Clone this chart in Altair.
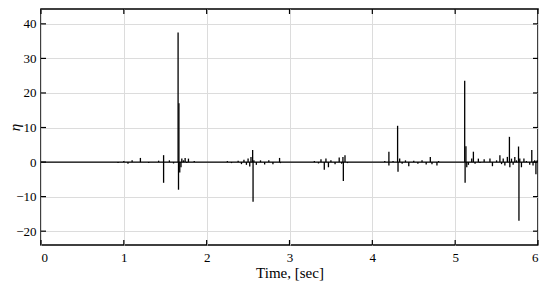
import altair as alt
import pandas as pd

# spikes of eta about zero: time (s) and peak value
spike_t = [
    0.93, 1.0, 1.05, 1.1, 1.2, 1.3, 1.42,
    1.48, 1.48, 1.55, 1.6,
    1.655, 1.66, 1.665, 1.675, 1.69, 1.70, 1.72, 1.74, 1.76, 1.78, 1.85,
    2.25, 2.3, 2.38, 2.42, 2.45, 2.48, 2.5, 2.52, 2.535, 2.555, 2.56, 2.57, 2.6, 2.65,
    2.7, 2.75, 2.8, 2.88, 2.89,
    3.3, 3.35, 3.38, 3.42, 3.44, 3.47, 3.5, 3.55, 3.6, 3.63, 3.645, 3.65, 3.67, 3.7,
    4.15, 4.2, 4.2, 4.25, 4.305, 4.31, 4.33, 4.36, 4.4, 4.44, 4.5, 4.55, 4.6,
    4.65, 4.7, 4.72, 4.78, 4.8,
    5.115, 5.12, 5.13, 5.14, 5.16, 5.2, 5.22, 5.24, 5.28, 5.3, 5.35, 5.42, 5.45, 5.5,
    5.54, 5.56, 5.58, 5.6, 5.63, 5.655, 5.66, 5.68, 5.7, 5.72, 5.74, 5.765, 5.77, 5.78, 5.8,
    5.83, 5.86, 5.9, 5.925, 5.94, 5.96, 5.975, 5.99,
]
spike_v = [
    -0.3, 0.3, -0.5, 0.5, 1.2, -0.3, 0.4,
    2.0, -6.0, 0.5, -0.4,
    37.5, -8.0, 17.0, -3.0, -1.5, 1.0, 0.5, 1.2, -0.3, 1.0, 0.3,
    0.3, -0.3, 0.4, -0.6, 0.7, -0.8, 1.0, -1.3, 1.5, 3.5, -11.5, 0.5, -0.8, 0.5,
    -0.7, 0.5, -0.6, 1.2, -0.3,
    0.3, -0.4, 0.8, -2.2, 1.0, -1.5, 0.5, -0.6, 1.3, -0.5, 1.5, -5.5, 2.0, -0.3,
    0.3, 3.0, -1.0, 0.3, 10.5, -2.8, 1.0, -0.5, 0.5, -1.2, 0.4, -0.5, 0.5,
    -0.7, 1.5, -0.6, -1.0, 0.3,
    23.5, -6.0, 4.6, -1.5, -0.8, 1.0, 3.0, -0.5, 1.0, -0.3, 0.8, 1.0, -1.2, 0.5,
    2.0, -0.6, 1.0, -1.0, 1.5, 7.3, -1.5, 1.0, -0.8, 1.5, 0.5, 4.5, -17.0, 1.0, -1.5,
    1.0, 0.3, -0.8, 3.5, -1.0, 0.5, -3.5, 0.5,
]

x_ticks = [0, 1, 2, 3, 4, 5, 6]
y_ticks = [-20, -10, 0, 10, 20, 30, 40]

W, H = 497, 236
FONT = "Liberation Serif, DejaVu Serif, serif"
TL = 5

df = pd.DataFrame({"t": spike_t, "eta": spike_v, "base": [0.0] * len(spike_t)})
xt = pd.DataFrame({"t": x_ticks})
yt = pd.DataFrame({"eta": y_ticks})
base_df = pd.DataFrame({"t": [x_ticks[0]], "t1": [x_ticks[-1]], "eta": [0.0]})

xs = alt.Scale(domain=[0, 6], nice=False, zero=False)
ys = alt.Scale(domain=[-24, 44.3], nice=False, zero=False)

axis_common = dict(ticks=False, domain=False, gridColor="#dcdcdc", gridWidth=1,
                   format="d", labelFont=FONT, titleFont=FONT, labelFontSize=13,
                   titleFontSize=15, labelColor="black", titleColor="black",
                   titleFontWeight="normal", labelOverlap=False, tickCount=20)
x_axis = alt.Axis(values=x_ticks, labelPadding=6, titlePadding=1, **axis_common)
y_axis = alt.Axis(values=y_ticks, labelPadding=5, titleX=-27, titleY=H / 2,
                  titleAngle=270, titleAlign="center", titleBaseline="middle",
                  titleFontStyle="italic", **axis_common)
XT = "Time, [sec]"
YT = "η"


def X(field):
    return alt.X(field, type="quantitative", scale=xs, title=XT, axis=x_axis)


def Y(field):
    return alt.Y(field, type="quantitative", scale=ys, title=YT, axis=y_axis)


baseline = alt.Chart(base_df).mark_rule(color="black", strokeWidth=1.3).encode(
    x=X("t"), x2="t1:Q", y=Y("eta"),
)

spikes = alt.Chart(df).mark_rule(color="black", strokeWidth=1.3).encode(
    x=X("t"), y=Y("eta"), y2="base:Q",
)

tick_style = dict(color="black", strokeWidth=1.2)
bottom_ticks = alt.Chart(xt).mark_rule(**tick_style).encode(
    x=X("t"), y=alt.value(H), y2=alt.value(H - TL))
top_ticks = alt.Chart(xt).mark_rule(**tick_style).encode(
    x=X("t"), y=alt.value(0), y2=alt.value(TL))
left_ticks = alt.Chart(yt).mark_rule(**tick_style).encode(
    y=Y("eta"), x=alt.value(0), x2=alt.value(TL))
right_ticks = alt.Chart(yt).mark_rule(**tick_style).encode(
    y=Y("eta"), x=alt.value(W), x2=alt.value(W - TL))

chart = alt.layer(baseline, spikes, bottom_ticks, top_ticks, left_ticks, right_ticks).properties(
    width=W, height=H,
    autosize=alt.AutoSizeParams(type="none"),
    padding={"left": 33, "top": 1, "right": 4, "bottom": 40},
).configure_view(
    stroke="black", strokeWidth=1.5
)

chart.save("out.html", embed_options={"renderer": "svg", "actions": False})
